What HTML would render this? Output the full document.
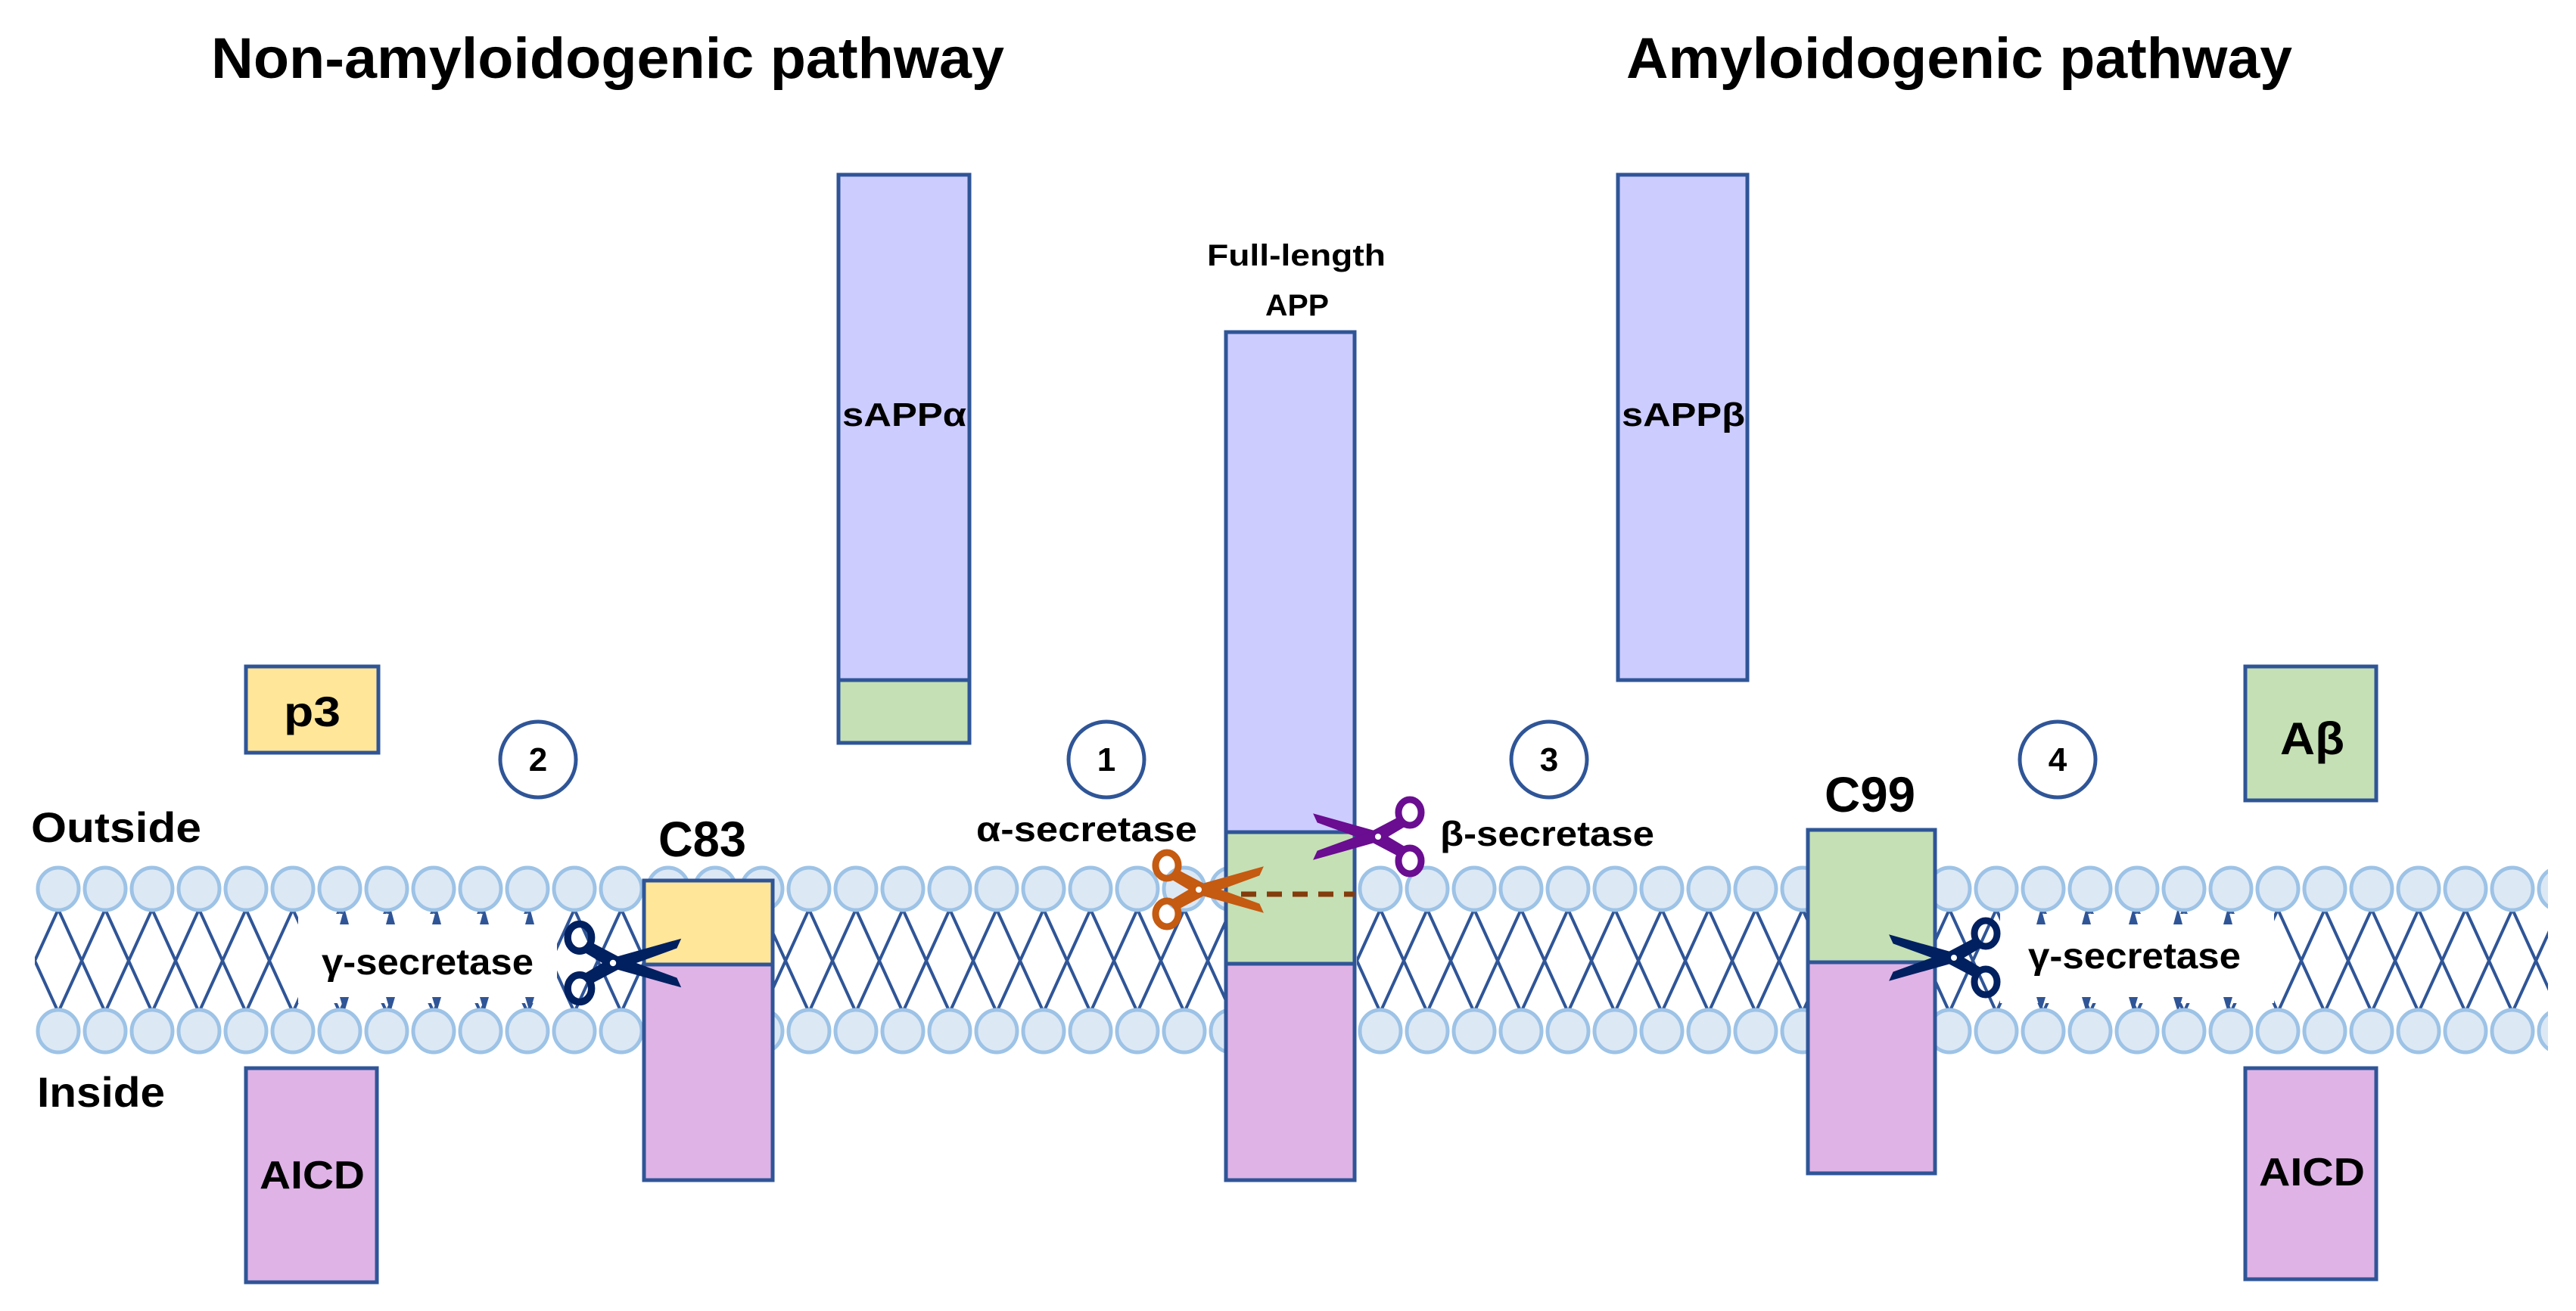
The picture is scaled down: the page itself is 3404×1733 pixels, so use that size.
<!DOCTYPE html>
<html><head><meta charset="utf-8"><style>html,body{margin:0;padding:0;background:#fff}svg{display:block}</style></head>
<body>
<svg width="3404" height="1733" viewBox="0 0 3404 1733" xmlns="http://www.w3.org/2000/svg" font-family="'Liberation Sans', sans-serif" font-weight="bold">
<defs>
<pattern id="hL" patternUnits="userSpaceOnUse" x="46" y="0" width="62" height="1733"><ellipse cx="31" cy="1175" rx="27" ry="28" fill="#dde8f5" stroke="#9dc3e6" stroke-width="5"/><ellipse cx="31" cy="1363" rx="27" ry="28" fill="#dde8f5" stroke="#9dc3e6" stroke-width="5"/></pattern>
<pattern id="hM" patternUnits="userSpaceOnUse" x="1793" y="0" width="62" height="1733"><ellipse cx="31" cy="1175" rx="27" ry="28" fill="#dde8f5" stroke="#9dc3e6" stroke-width="5"/><ellipse cx="31" cy="1363" rx="27" ry="28" fill="#dde8f5" stroke="#9dc3e6" stroke-width="5"/></pattern>
<pattern id="hR" patternUnits="userSpaceOnUse" x="2545" y="0" width="62" height="1733"><ellipse cx="31" cy="1175" rx="27" ry="28" fill="#dde8f5" stroke="#9dc3e6" stroke-width="5"/><ellipse cx="31" cy="1363" rx="27" ry="28" fill="#dde8f5" stroke="#9dc3e6" stroke-width="5"/></pattern>
<pattern id="tL" patternUnits="userSpaceOnUse" x="46" y="1200" width="62" height="140"><polygon points="31,2 62,70 31,138 0,70" fill="none" stroke="#2f5597" stroke-width="4"/></pattern>
<pattern id="tM" patternUnits="userSpaceOnUse" x="1793" y="1200" width="62" height="140"><polygon points="31,2 62,70 31,138 0,70" fill="none" stroke="#2f5597" stroke-width="4"/></pattern>
<pattern id="tR" patternUnits="userSpaceOnUse" x="2545" y="1200" width="62" height="140"><polygon points="31,2 62,70 31,138 0,70" fill="none" stroke="#2f5597" stroke-width="4"/></pattern>
<g id="sc">
<polygon points="-36,14 -4,-5 85,-30 80,-19 6,8 -28,26"/>
<polygon points="-36,-14 -4,5 85,30 80,19 6,-8 -28,-26"/>
<ellipse cx="-42" cy="-32" rx="15" ry="17" fill="none" stroke-width="9"/>
<ellipse cx="-42" cy="32" rx="15" ry="17" fill="none" stroke-width="9"/>
<circle cx="0" cy="0" r="4" fill="#fff" stroke="none"/>
</g>
</defs>

<text x="803" y="103" font-size="76" text-anchor="middle" textLength="1048" lengthAdjust="spacingAndGlyphs">Non-amyloidogenic pathway</text>
<text x="2589" y="103" font-size="76" text-anchor="middle" textLength="880" lengthAdjust="spacingAndGlyphs">Amyloidogenic pathway</text>

<rect x="46" y="1200" width="1580" height="140" fill="url(#tL)"/>
<rect x="1793" y="1200" width="600" height="140" fill="url(#tM)"/>
<rect x="2545" y="1200" width="822" height="140" fill="url(#tR)"/>
<rect x="394" y="1208" width="342" height="118" fill="#fff"/>
<rect x="2643" y="1208" width="362" height="118" fill="#fff"/>
<g fill="#2f5597">
<polygon points="455,1200 449,1222 461,1222"/><polygon points="516,1200 510,1222 522,1222"/><polygon points="577,1200 571,1222 583,1222"/><polygon points="640,1200 634,1222 646,1222"/><polygon points="700,1200 694,1222 706,1222"/>
<polygon points="455,1338 449,1318 461,1318"/><polygon points="516,1338 510,1318 522,1318"/><polygon points="577,1338 571,1318 583,1318"/><polygon points="640,1338 634,1318 646,1318"/><polygon points="700,1338 694,1318 706,1318"/>
<polygon points="2697,1200 2691,1222 2703,1222"/><polygon points="2757,1200 2751,1222 2763,1222"/><polygon points="2819,1200 2813,1222 2825,1222"/><polygon points="2878,1200 2872,1222 2884,1222"/><polygon points="2944,1200 2938,1222 2950,1222"/>
<polygon points="2697,1338 2691,1318 2703,1318"/><polygon points="2757,1338 2751,1318 2763,1318"/><polygon points="2819,1338 2813,1318 2825,1318"/><polygon points="2878,1338 2872,1318 2884,1318"/><polygon points="2944,1338 2938,1318 2950,1318"/>
</g>
<rect x="46" y="1140" width="1580" height="260" fill="url(#hL)"/>
<rect x="1793" y="1140" width="600" height="260" fill="url(#hM)"/>
<rect x="2545" y="1140" width="822" height="260" fill="url(#hR)"/>

<text x="425" y="1288" font-size="48" textLength="280" lengthAdjust="spacingAndGlyphs">γ-secretase</text>
<text x="2680" y="1280" font-size="48" textLength="281" lengthAdjust="spacingAndGlyphs">γ-secretase</text>

<g stroke="#2f5597" stroke-width="5">
<rect x="1108" y="231" width="173" height="668" fill="#ccccff"/>
<rect x="1108" y="899" width="173" height="83" fill="#c5e0b4"/>
<rect x="2138" y="231" width="171" height="668" fill="#ccccff"/>
<rect x="1620" y="439" width="170" height="661" fill="#ccccff"/>
<rect x="1620" y="1100" width="170" height="174" fill="#c5e0b4"/>
<rect x="1620" y="1274" width="170" height="286" fill="#dfb3e6"/>
<rect x="851" y="1164" width="170" height="111" fill="#ffe699"/>
<rect x="851" y="1275" width="170" height="285" fill="#dfb3e6"/>
<rect x="2389" y="1097" width="168" height="175" fill="#c5e0b4"/>
<rect x="2389" y="1272" width="168" height="279" fill="#dfb3e6"/>
<rect x="325" y="881" width="175" height="114" fill="#ffe699"/>
<rect x="325" y="1412" width="173" height="283" fill="#dfb3e6"/>
<rect x="2967" y="881" width="173" height="177" fill="#c5e0b4"/>
<rect x="2967" y="1412" width="173" height="279" fill="#dfb3e6"/>
<circle cx="711" cy="1004" r="50" fill="#fff"/>
<circle cx="1462" cy="1004" r="50" fill="#fff"/>
<circle cx="2047" cy="1004" r="50" fill="#fff"/>
<circle cx="2719" cy="1004" r="50" fill="#fff"/>
</g>
<g font-size="44" text-anchor="middle">
<text x="711" y="1019">2</text><text x="1462" y="1019">1</text><text x="2047" y="1019">3</text><text x="2719" y="1019">4</text>
</g>

<line x1="1640" y1="1182" x2="1790" y2="1182" stroke="#843c0c" stroke-width="7" stroke-dasharray="20 14"/>

<use href="#sc" transform="translate(810,1273) scale(1.05)" fill="#002060" stroke="#002060"/>
<use href="#sc" transform="translate(1584,1176) scale(1.0)" fill="#c55a11" stroke="#c55a11"/>
<use href="#sc" transform="translate(1821,1106) scale(-1,1)" fill="#6a0d91" stroke="#6a0d91"/>
<use href="#sc" transform="translate(2582,1266) scale(-1,1)" fill="#002060" stroke="#002060"/>

<text x="41" y="1113" font-size="56" textLength="225" lengthAdjust="spacingAndGlyphs">Outside</text>
<text x="49" y="1463" font-size="56" textLength="169" lengthAdjust="spacingAndGlyphs">Inside</text>
<text x="870" y="1132" font-size="66" textLength="116" lengthAdjust="spacingAndGlyphs">C83</text>
<text x="2411" y="1073" font-size="66" textLength="120" lengthAdjust="spacingAndGlyphs">C99</text>
<text x="1290" y="1112" font-size="46" textLength="292" lengthAdjust="spacingAndGlyphs">α-secretase</text>
<text x="1903" y="1118" font-size="46" textLength="283" lengthAdjust="spacingAndGlyphs">β-secretase</text>
<text x="1595" y="351" font-size="40" textLength="236" lengthAdjust="spacingAndGlyphs">Full-length</text>
<text x="1672" y="417" font-size="40" textLength="84" lengthAdjust="spacingAndGlyphs">APP</text>
<text x="1113" y="563" font-size="44" textLength="164" lengthAdjust="spacingAndGlyphs">sAPPα</text>
<text x="2143" y="563" font-size="44" textLength="163" lengthAdjust="spacingAndGlyphs">sAPPβ</text>
<text x="375" y="960" font-size="56" textLength="75" lengthAdjust="spacingAndGlyphs">p3</text>
<text x="3013" y="997" font-size="60" textLength="85" lengthAdjust="spacingAndGlyphs">Aβ</text>
<text x="343" y="1571" font-size="52" textLength="139" lengthAdjust="spacingAndGlyphs">AICD</text>
<text x="2985" y="1567" font-size="52" textLength="140" lengthAdjust="spacingAndGlyphs">AICD</text>
</svg>
</body></html>
